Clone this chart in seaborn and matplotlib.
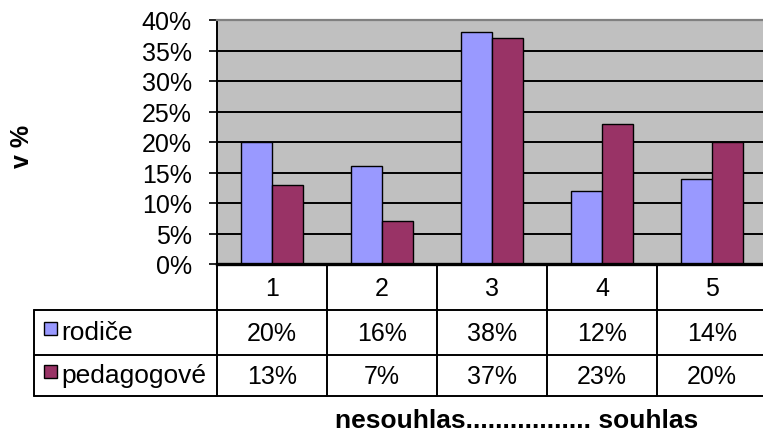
import matplotlib
matplotlib.use("Agg")
import matplotlib.pyplot as plt
import seaborn as sns
import pandas as pd
from matplotlib.ticker import FuncFormatter

# Answers on a 1-5 scale, share of respondents in %
categories = ["1", "2", "3", "4", "5"]
series_names = ["rodiče", "pedagogové"]
rodice = [20, 16, 38, 12, 14]
pedagogove = [13, 7, 37, 23, 20]
y_ticks = [0, 5, 10, 15, 20, 25, 30, 35, 40]
y_label = "v %"
x_label = "nesouhlas................. souhlas"
colors = ["#9999FF", "#993366"]

df = pd.DataFrame({
    "odpověď": categories * 2,
    "skupina": [series_names[0]] * len(categories) + [series_names[1]] * len(categories),
    "podíl": rodice + pedagogove,
})

sns.set_theme(style="white")
plt.rcParams["font.family"] = ["Liberation Sans", "DejaVu Sans"]
plt.rcParams["text.color"] = "black"
plt.rcParams["axes.labelcolor"] = "black"
FS = 18

W, H = 763, 435
fig = plt.figure(figsize=(W / 100, H / 100), dpi=100)

def px_rect(x0, y0, x1, y1):
    return [x0 / W, 1 - y1 / H, (x1 - x0) / W, (y1 - y0) / H]

# chart area
ax = fig.add_axes(px_rect(217, 21, 767, 265))
sns.barplot(data=df, x="odpověď", y="podíl", hue="skupina", order=categories,
            hue_order=series_names, palette=colors, width=0.57,
            edgecolor="black", linewidth=1.0, saturation=1, ax=ax, legend=False)
ax.set_facecolor("#C0C0C0")
ax.set_xlim(-0.5, len(categories) - 0.5)
ax.set_ylim(0, 40)
ax.set_yticks(y_ticks)
ax.yaxis.set_major_formatter(FuncFormatter(lambda v, p: f"{v:.0f}%"))
ax.yaxis.grid(True, color="black", linewidth=1.4)
ax.set_axisbelow(True)
ax.set_xticks([])
ax.set_xlabel("")
ax.set_ylabel("")
ax.tick_params(axis="y", left=True, length=6, width=1.2, color="black",
               pad=12, labelsize=FS, labelcolor="black")
for side in ["left", "bottom"]:
    ax.spines[side].set_color("black")
ax.spines["left"].set_linewidth(1.4)
ax.spines["bottom"].set_linewidth(2.4)
ax.spines["top"].set_color("#808080")
ax.spines["top"].set_linewidth(1.6)
ax.spines["right"].set_visible(False)

# data table beneath the chart
tab = fig.add_axes(px_rect(34, 265, 767, 397))
left_edge = -0.5 - (217 - 34) / 110
tab.set_xlim(left_edge, len(categories) - 0.5)
tab.set_ylim(132, 0)
tab.axis("off")
rows = [0, 46, 91, 132]
lw = 1.4
for b in range(len(categories)):
    tab.plot([b - 0.5, b - 0.5], [0, 132], color="black", lw=lw, clip_on=False)
for r in rows[1:]:
    tab.plot([left_edge, len(categories) - 0.5], [r, r], color="black", lw=lw, clip_on=False)
tab.plot([left_edge, left_edge], [rows[1], rows[3]], color="black", lw=lw, clip_on=False)

for i, c in enumerate(categories):
    tab.text(i, (rows[0] + rows[1]) / 2 + 1, c, ha="center", va="center", fontsize=FS)
for row_i, (name, vals, col) in enumerate(zip(series_names, [rodice, pedagogove], colors)):
    yc = (rows[row_i + 1] + rows[row_i + 2]) / 2
    for i, v in enumerate(vals):
        tab.text(i, yc + 1, f"{v}%", ha="center", va="center", fontsize=FS)
    tab.add_patch(plt.Rectangle((left_edge + 10 / 110, yc - 10.5), 13 / 110, 13,
                                facecolor=col, edgecolor="black", lw=1.0, clip_on=False))
    tab.text(left_edge + 27 / 110, yc, name, ha="left", va="center", fontsize=FS + 1)

fig.text(22 / W, 1 - 146 / H, y_label, rotation=90, ha="center", va="center",
         fontsize=FS, fontweight="bold")
fig.text(517 / W, 1 - 421 / H, x_label, ha="center", va="center",
         fontsize=FS + 1, fontweight="bold")

fig.savefig("out.png", dpi=100, facecolor="white")
